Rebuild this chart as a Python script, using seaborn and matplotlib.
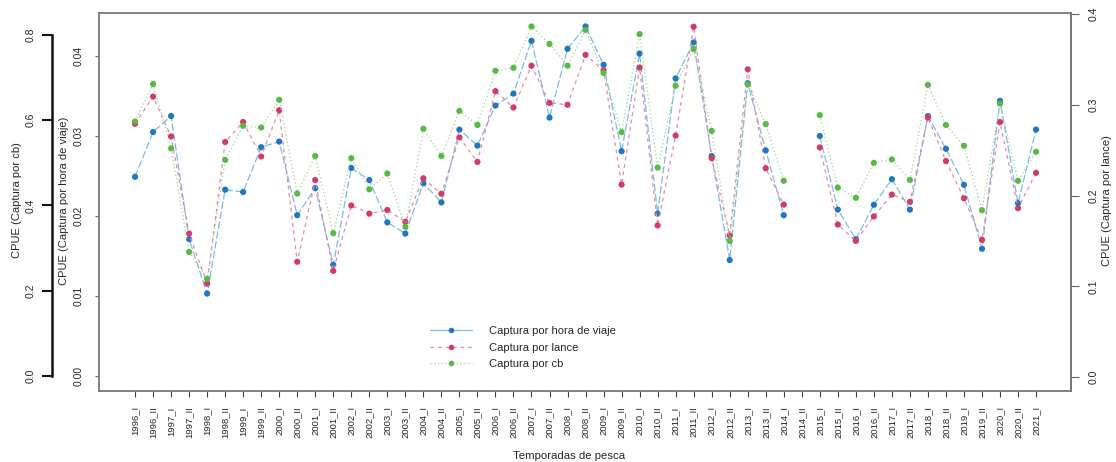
import numpy as np
import pandas as pd
import matplotlib
matplotlib.use("Agg")
import matplotlib.pyplot as plt
import seaborn as sns
from matplotlib.lines import Line2D

# ---------------- data ----------------
seasons = [f"{y}_{s}" for y in range(1996, 2021) for s in ("I", "II")] + ["2021_I"]

hora = [0.0249, 0.0305, 0.0325, 0.0171, 0.0103, 0.0233, 0.0230, 0.0286, 0.0293, 0.0201,
        0.0235, 0.0139, 0.0260, 0.0245, 0.0192, 0.0178, 0.0241, 0.0217, 0.0308, 0.0288,
        0.0338, 0.0353, 0.0419, 0.0323, 0.0409, 0.0437, 0.0389, 0.0281, 0.0403, 0.0203,
        0.0372, 0.0417, 0.0275, 0.0145, 0.0366, 0.0282, 0.0201, np.nan, 0.0300, 0.0208,
        0.0171, 0.0214, 0.0246, 0.0208, 0.0325, 0.0284, 0.0239, 0.0159, 0.0344, 0.0216,
        0.0308]

lance = [0.279, 0.309, 0.265, 0.158, 0.103, 0.259, 0.281, 0.243, 0.294, 0.127,
         0.217, 0.117, 0.189, 0.180, 0.184, 0.171, 0.219, 0.202, 0.264, 0.237,
         0.315, 0.297, 0.343, 0.302, 0.300, 0.355, 0.338, 0.212, 0.341, 0.167,
         0.266, 0.386, 0.241, 0.156, 0.339, 0.230, 0.190, np.nan, 0.253, 0.168,
         0.150, 0.177, 0.201, 0.193, 0.286, 0.238, 0.197, 0.151, 0.281, 0.186,
         0.225]

cb = [0.597, 0.685, 0.534, 0.291, 0.228, 0.507, 0.587, 0.583, 0.648, 0.428,
      0.516, 0.335, 0.511, 0.438, 0.475, 0.350, 0.580, 0.516, 0.622, 0.589,
      0.716, 0.723, 0.820, 0.779, 0.728, 0.812, 0.711, 0.572, 0.802, 0.489,
      0.681, 0.767, 0.575, 0.317, 0.684, 0.591, 0.458, np.nan, 0.612, 0.442,
      0.418, 0.500, 0.508, 0.460, 0.683, 0.589, 0.540, 0.389, 0.639, 0.458,
      0.526]

names = ["Captura por hora de viaje", "Captura por lance", "Captura por cb"]

# ---------------- style ----------------
sns.set_style("white")
plt.rcParams["font.family"] = ["Liberation Sans", "DejaVu Sans"]

W, H = 1116, 462
fig = plt.figure(figsize=(W / 100, H / 100), dpi=100)
ax = fig.add_axes([99 / W, 71 / H, 972 / W, 378 / H])
ax2 = ax.twinx()
ax3 = ax.twinx()

blue_m, blue_l = "#1f77c4", "#7cbbe6"
red_m, red_l = "#d23b66", "#e88aa4"
green_m, green_l = "#58b947", "#9bd68f"


def draw(axis, vals, line_c, mark_c, ls):
    df = pd.DataFrame({"idx": np.arange(len(seasons)), "val": vals})
    df["seg"] = (df["val"].isna().cumsum() > 0).astype(int)
    df = df.dropna()
    sns.lineplot(data=df, x="idx", y="val", units="seg", estimator=None,
                 color=line_c, linestyle=ls, linewidth=0.9, ax=axis, legend=False)
    sns.scatterplot(data=df, x="idx", y="val", color=mark_c, s=20,
                    edgecolor="none", ax=axis, legend=False, zorder=3)
    axis.set_xlabel("")
    axis.set_ylabel("")


draw(ax, hora, blue_l, blue_m, (0, (6, 2)))
draw(ax2, lance, red_l, red_m, (0, (3, 3)))
draw(ax3, cb, green_l, green_m, (0, (1, 2)))

# x axis
ax.set_xlim(-2.0, 51.94)
ax.set_xticks(range(len(seasons)))
ax.set_xticklabels(seasons, rotation=90, fontsize=6.8)
ax.tick_params(axis="x", bottom=True, length=4, width=0.8, color="#444", pad=7)

# hora axis (left box edge)
ax.set_ylim(-0.001875, 0.045375)
ax.set_yticks([0.0, 0.01, 0.02, 0.03, 0.04])
ax.set_yticklabels(["0.00", "0.01", "0.02", "0.03", "0.04"], fontsize=7.5)
ax.tick_params(axis="y", left=True, length=3, width=0.8, color="#666", pad=8,
               labelrotation=90)
for t in ax.get_yticklabels():
    t.set_va("center")
for s in ax.spines.values():
    s.set_color("#777")
    s.set_linewidth(1.3)

# lance axis (right)
ax2.set_ylim(-0.0154, 0.4011)
ax2.set_yticks([0.0, 0.1, 0.2, 0.3, 0.4])
ax2.set_yticklabels(["0.0", "0.1", "0.2", "0.3", "0.4"], fontsize=7.5)
ax2.tick_params(axis="y", right=True, length=6, width=0.8, color="#666", pad=7,
                labelrotation=90)
for t in ax2.get_yticklabels():
    t.set_va("center")
for k, s in ax2.spines.items():
    s.set_visible(k == "right")
ax2.spines["right"].set_color("#777")
ax2.spines["right"].set_linewidth(1.3)

# cb axis (outer left)
ax3.set_ylim(-0.0352, 0.8516)
ax3.yaxis.set_ticks_position("left")
ax3.yaxis.set_label_position("left")
for k, s in ax3.spines.items():
    s.set_visible(k == "left")
ax3.spines["left"].set_position(("outward", 47 * 0.72))
ax3.spines["left"].set_bounds(0, 0.8)
ax3.spines["left"].set_color("#111")
ax3.spines["left"].set_linewidth(1.8)
ax3.set_yticks([0.0, 0.2, 0.4, 0.6, 0.8])
ax3.set_yticklabels(["0.0", "0.2", "0.4", "0.6", "0.8"], fontsize=7.5)
ax3.tick_params(axis="y", left=True, length=7, width=1.5, color="#111", pad=5,
                labelrotation=90)
for t in ax3.get_yticklabels():
    t.set_va("center")

# axis titles
fig.text(17 / W, 1 - 200 / H, "CPUE (Captura por cb)", rotation=90,
         ha="center", va="center", fontsize=8)
fig.text(64 / W, 1 - 201 / H, "CPUE (Captura por hora de viaje)", rotation=90,
         ha="center", va="center", fontsize=8)
fig.text(1107 / W, 1 - 201 / H, "CPUE (Captura por lance)", rotation=90,
         ha="center", va="center", fontsize=8)
fig.text(569 / W, 1 - 456 / H, "Temporadas de pesca", ha="center", va="center",
         fontsize=8.2)

# legend
handles = [
    Line2D([], [], color=blue_l, linestyle="-", linewidth=0.9, marker="o",
           markersize=4, markerfacecolor=blue_m, markeredgewidth=0),
    Line2D([], [], color=red_l, linestyle=(0, (3, 3)), linewidth=0.9, marker="o",
           markersize=4, markerfacecolor=red_m, markeredgewidth=0),
    Line2D([], [], color=green_l, linestyle=(0, (1, 2)), linewidth=0.9, marker="o",
           markersize=4, markerfacecolor=green_m, markeredgewidth=0),
]
fig.legend(handles, names, loc="upper left", bbox_to_anchor=(430 / W, 1 - 326 / H),
           frameon=False, fontsize=8, handlelength=3.8, handletextpad=1.5,
           labelspacing=0.6, borderpad=0, borderaxespad=0)

fig.savefig("out.png", dpi=100)
